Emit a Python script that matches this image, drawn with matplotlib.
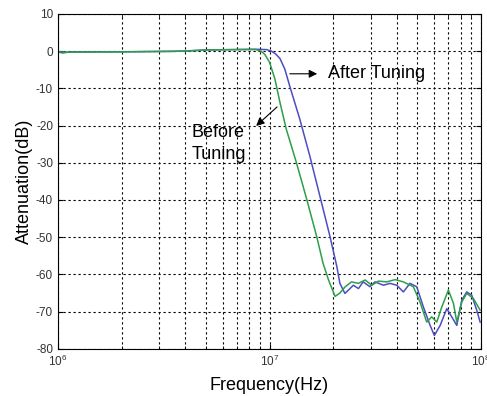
import numpy as np
import matplotlib
matplotlib.use('Agg')
import matplotlib.pyplot as plt
from matplotlib.ticker import LogLocator, FixedLocator, NullFormatter

plt.rcParams['font.family'] = ['Liberation Sans', 'DejaVu Sans']
plt.rcParams['mathtext.default'] = 'regular'
plt.rcParams['axes.unicode_minus'] = False

# frequencies in MHz, attenuation in dB
f_after = [1.0, 1.05, 1.15, 2.0, 4.05, 5.0, 6.73, 8.5, 9.68, 10.2, 10.7, 11.2, 11.8, 12.5, 13.9,
           15.5, 17.3, 19.3, 20.8, 21.5, 22.7, 24.0, 24.9, 26.3, 27.7, 29.8, 31.5,
           34.5, 37.1, 39.9, 42.9, 46.1, 49.6, 53.3, 57.4, 60.1, 64.0, 68.8, 72.6,
           76.7, 81.0, 85.5, 90.3, 95.3, 98.9]
a_after = [-0.2, -0.5, -0.2, -0.2, 0.0, 0.3, 0.4, 0.5, 0.4, 0.0, -0.8, -2.0, -4.8, -9.7, -18.3,
           -28.2, -39.0, -49.8, -57.9, -62.4, -65.1, -63.8, -62.9, -63.8, -62.0, -63.3, -62.0,
           -62.9, -62.4, -62.9, -64.7, -62.4, -63.3, -68.7, -73.7, -76.4, -73.7, -69.2, -71.4,
           -73.7, -66.9, -64.7, -65.6, -69.6, -72.8]

f_before = [1.0, 1.1, 2.0, 3.5, 5.0, 7.0, 8.6, 9.1, 9.5, 10.0, 10.6, 11.2, 12.0, 13.4, 15.0,
            16.7, 17.9, 19.0, 20.4, 21.5, 22.7, 24.4, 26.3, 28.3, 30.4, 32.7, 35.8,
            39.2, 42.9, 47.8, 51.4, 55.3, 58.4, 61.7, 65.2, 70.0, 74.0, 76.7, 81.0,
            85.5, 92.0, 98.9]
a_before = [-0.2, -0.3, -0.2, -0.1, 0.3, 0.4, 0.4, 0.0, -0.9, -3.0, -7.5, -13.8, -21.0, -30.0, -39.9,
            -49.8, -57.0, -61.5, -65.9, -65.0, -63.4, -62.0, -62.4, -61.5, -62.9, -61.8, -62.0,
            -61.4, -62.0, -63.3, -67.4, -72.8, -71.4, -72.8, -68.7, -64.2, -67.8, -72.8, -67.4,
            -65.1, -66.5, -69.6]

yticks = [10, 0, -10, -20, -30, -40, -50, -60, -70, -80]
xticks = [1e6, 1e7, 1e8]
xticklabels = ['$10^{6}$', '$10^{7}$', '$10^{8}$']

fig = plt.figure(figsize=(4.87, 3.96), dpi=100)
ax = fig.add_axes([0.119, 0.119, 0.869, 0.846])

ax.semilogx(np.array(f_after) * 1e6, a_after, color='#4d4dc2', lw=1.1)
ax.semilogx(np.array(f_before) * 1e6, a_before, color='#2e9e4a', lw=1.1)

ax.set_xlim(1e6, 1e8)
ax.set_ylim(-80, 10)
ax.xaxis.set_major_locator(FixedLocator(xticks))
ax.set_xticklabels(xticklabels)
ax.xaxis.set_minor_locator(LogLocator(base=10, subs=np.arange(2, 10)))
ax.xaxis.set_minor_formatter(NullFormatter())
ax.set_yticks(yticks)

ax.grid(True, which='major', color='black', linestyle=(0, (2, 2.5)), lw=0.8)
ax.grid(True, which='minor', axis='x', color='black', linestyle=(0, (2, 2.5)), lw=0.8)
ax.tick_params(which='both', direction='in', top=True, right=True, labelsize=8.5,
               labelcolor='#333333')
for s in ax.spines.values():
    s.set_linewidth(0.8)

ax.set_xlabel('Frequency(Hz)', fontsize=13, labelpad=6)
ax.set_ylabel('Attenuation(dB)', fontsize=13, labelpad=2)

# annotations
ax.annotate('', xy=(17.3e6, -6.1), xytext=(12.1e6, -6.1),
            arrowprops=dict(arrowstyle='-|>', color='black', lw=0.8, mutation_scale=12))
ax.text(18.9e6, -6.1, 'After Tuning', fontsize=13, va='center', ha='left')
ax.annotate('', xy=(8.45e6, -20.6), xytext=(11.1e6, -14.5),
            arrowprops=dict(arrowstyle='-|>', color='black', lw=0.8, mutation_scale=12))
ax.text(4.3e6, -19.5, 'Before\nTuning', fontsize=13, va='top', ha='left', linespacing=1.4)

fig.savefig('out.png', dpi=100)
